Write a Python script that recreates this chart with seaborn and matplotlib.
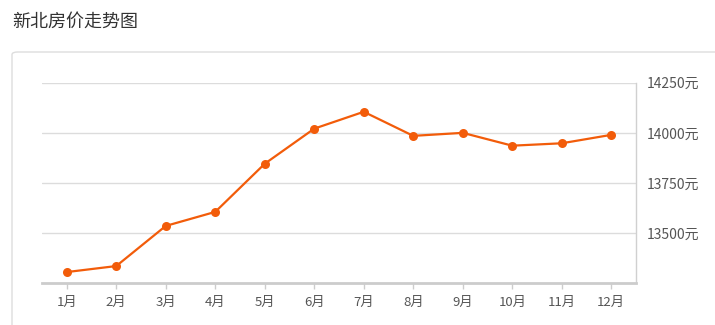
import matplotlib
matplotlib.use("Agg")
import matplotlib.pyplot as plt
import seaborn as sns
import pandas as pd
from matplotlib.patches import FancyBboxPatch

months = ["1月", "2月", "3月", "4月", "5月", "6月", "7月", "8月", "9月", "10月", "11月", "12月"]
prices = [13306, 13336, 13536, 13606, 13846, 14021, 14105, 13985, 14000, 13936, 13948, 13990]
yticks = [13500, 13750, 14000, 14250]
ytick_labels = ["13500元", "13750元", "14000元", "14250元"]
title = "新北房价走势图"

sns.set_theme(style="white")
plt.rcParams["font.family"] = ["Noto Sans CJK SC", "DejaVu Sans"]

fig = plt.figure(figsize=(7.15, 3.25), dpi=100)
W, H = 715, 325

# outer panel box
box = FancyBboxPatch((12 / W, -10 / H), 720 / W, (325 - 52 + 10) / H,
                     boxstyle="round,pad=0,rounding_size=0.008",
                     transform=fig.transFigure, facecolor="white",
                     edgecolor="#dddddd", linewidth=1.0, zorder=-5)
fig.patches.append(box)

fig.text(12 / W, 1 - 22 / H, title, fontsize=13, color="#333333", va="center", ha="left")

ax = fig.add_axes([42 / W, 41.7 / H, (636 - 42) / W, (283.3 - 82.7) / H])
ax.set_facecolor("none")
ax.set_zorder(2)

df = pd.DataFrame({"month": months, "price": prices})
sns.lineplot(data=df, x="month", y="price", ax=ax, color="#f25c0a", linewidth=1.6,
             marker="o", markersize=6.5, markeredgewidth=0, sort=False)

ax.set_xlim(-0.5, len(months) - 0.5)
ax.set_ylim(13250, 14250)
ax.set_yticks(yticks)
ax.set_yticklabels(ytick_labels)
ax.yaxis.tick_right()
ax.grid(axis="y", color="#dcdcdc", linewidth=1.0)
ax.set_axisbelow(True)
ax.set_xlabel("")
ax.set_ylabel("")

for s in ["top", "left"]:
    ax.spines[s].set_visible(False)
ax.spines["right"].set_color("#d0d0d0")
ax.spines["right"].set_linewidth(1.0)
ax.spines["bottom"].set_color("#cccccc")
ax.spines["bottom"].set_linewidth(2.0)

ax.tick_params(axis="x", bottom=True, length=4, width=1, color="#cccccc",
               labelsize=9.5, labelcolor="#555555", pad=5)
ax.tick_params(axis="y", right=True, left=False, length=0, labelsize=10,
               labelcolor="#555555", pad=8)

fig.savefig("out.png", dpi=100)
